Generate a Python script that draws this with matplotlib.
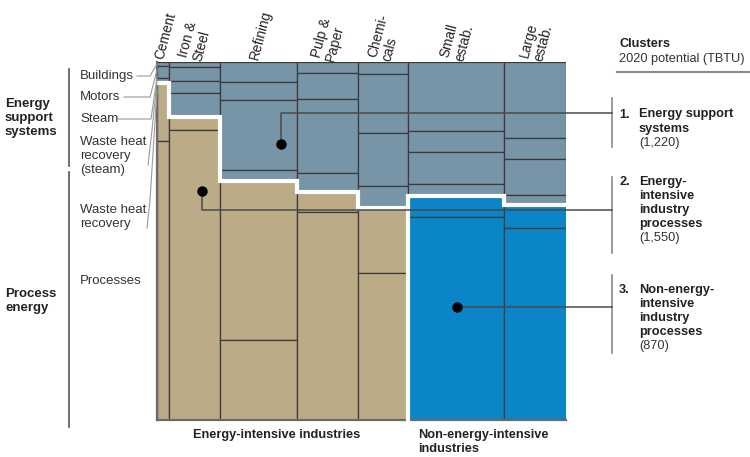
import matplotlib
matplotlib.use("Agg")
import matplotlib.pyplot as plt
import numpy as np
from matplotlib.transforms import blended_transform_factory

plt.rcParams['font.family'] = ['Liberation Sans', 'DejaVu Sans']

W, H = 750, 457

# columns (width ~ share of total potential)
sectors = ["Cement", "Iron &\nSteel", "Refining", "Pulp &\nPaper", "Chemi-\ncals",
           "Small\nestab.", "Large\nestab."]
widths = [12, 51, 77, 61, 50, 96, 62]
energy_intensive = [True, True, True, True, True, False, False]

# % of each column, from the top: energy support systems, then processes
support = [
    [1.1, 3.4, 1.4],
    [1.4, 3.9, 3.4, 6.7],
    [5.6, 5.0, 19.6, 3.1],
    [3.1, 7.3, 20.7, 5.3],
    [3.4, 16.5, 14.8, 6.1],
    [19.3, 5.9, 8.9, 3.4],
    [21.2, 5.9, 10.1, 2.8],
]
process = [
    [16.2, 77.9],
    [3.6, 81.0],
    [44.4, 22.3],
    [5.6, 58.1],
    [18.2, 41.1],
    [5.9, 56.7],
    [6.4, 53.6],
]

side_items = ["Buildings", "Motors", "Steam", "Waste heat\nrecovery\n(steam)",
              "Waste heat\nrecovery", "Processes"]
clusters = ["Energy support\nsystems", "Energy-\nintensive\nindustry\nprocesses",
            "Non-energy-\nintensive\nindustry\nprocesses"]
potential = ["1,220", "1,550", "870"]

slate = "#7895a7"
tan = "#bbab87"
blue = "#0a85c7"
edge = "#3a3a3a"

fig = plt.figure(figsize=(7.5, 4.57), dpi=100)
ax = fig.add_axes([157 / W, (H - 420) / H, (566 - 157) / W, (420 - 62) / H])
ov = fig.add_axes([0, 0, 1, 1])
ov.set_xlim(0, W)
ov.set_ylim(H, 0)
ov.axis('off')

total = sum(widths)
lefts = np.r_[0, np.cumsum(widths)[:-1]]
ax.set_xlim(0, total)
ax.set_ylim(100, 0)
ax.axis('off')

bnd = []
for i, x0 in enumerate(lefts):
    b = 0
    for h in support[i]:
        ax.bar(x0, h, width=widths[i], bottom=b, align='edge', color=slate,
               edgecolor=edge, linewidth=0.9)
        b += h
    bnd.append(b)
    pc = tan if energy_intensive[i] else blue
    for h in process[i]:
        ax.bar(x0, h, width=widths[i], bottom=b, align='edge', color=pc,
               edgecolor=edge, linewidth=0.9)
        b += h

# outer frame
ax.plot([0, 0], [0, 100], color="#6a6a6a", lw=1.6, clip_on=False)
ax.plot([0, total], [100, 100], color="#6a6a6a", lw=1.6, clip_on=False)

# white boundary between support systems and processes
ax.step(np.r_[lefts, total], np.r_[bnd, bnd[-1]], where='post', color='white',
        lw=3, clip_on=False, solid_joinstyle='miter')
gap = lefts[energy_intensive.index(False)]
ax.plot([gap, gap], [bnd[4], 100.5], color='white', lw=3, clip_on=False)

# column labels
tr = blended_transform_factory(ax.transData, ov.transData)
for i, s in enumerate(sectors):
    ax.text(lefts[i] + widths[i] / 2 - 4, 59, s, transform=tr, rotation=75,
            rotation_mode='anchor', ha='left', va='center', fontsize=9.8,
            color="#222", linespacing=1.05)

# left side
fs = 9.5
ov.text(5, 118, "Energy\nsupport\nsystems", fontsize=fs, fontweight='bold',
        va='center', ha='left', linespacing=1.2, color="#222")
ov.text(5, 301, "Process\nenergy", fontsize=fs, fontweight='bold',
        va='center', ha='left', linespacing=1.2, color="#222")
ov.plot([69, 69], [69, 166], color="#555", lw=1.2)
ov.plot([69, 69], [172, 427], color="#555", lw=1.2)

item_y = [76, 97, 119, 156, 217, 281]
for s, y in zip(side_items, item_y):
    ov.text(80, y, s, fontsize=fs, va='center', ha='left', linespacing=1.2,
            color="#333")
gl = dict(color="#9a9a9a", lw=0.8)
ov.plot([137, 150, 157], [76, 76, 64], **gl)
ov.plot([124, 150, 157], [97, 97, 70], **gl)
ov.plot([118, 151, 157], [119, 119, 77], **gl)
ov.plot([148, 152, 157], [165, 130, 81], **gl)
ov.plot([147, 150, 157], [228, 200, 90], **gl)

# bottom labels
ov.text(277, 435, "Energy-intensive industries", fontsize=9.2, fontweight='bold',
        ha='center', va='center', color="#222")
ov.text(418, 442, "Non-energy-intensive\nindustries", fontsize=9.2,
        fontweight='bold', ha='left', va='center', linespacing=1.2, color="#222")

# right-hand cluster legend
ov.text(619, 44, "Clusters", fontsize=9.2, fontweight='bold', ha='left',
        va='center', color="#222")
ov.text(619, 59, "2020 potential (TBTU)", fontsize=9.2, ha='left', va='center',
        color="#333")
ov.plot([617, 750], [72, 72], color="#8a8a8a", lw=1.5)

leg_top = [115, 182, 290]
brackets = [(98, 147), (177, 253), (275, 353)]
for k in range(3):
    n = clusters[k].count("\n") + 1
    ov.text(619, leg_top[k], f"{k + 1}.", fontsize=9.2, fontweight='bold',
            ha='left', va='center', color="#222")
    ov.text(639, leg_top[k] - 6.5, clusters[k], fontsize=9.2, fontweight='bold',
            ha='left', va='top', linespacing=1.25, color="#222")
    ov.text(639, leg_top[k] + n * 14, f"({potential[k]})", fontsize=9.2,
            ha='left', va='center', color="#333")
    ov.plot([612, 612], brackets[k], color="#8a8a8a", lw=1.2)

# leader lines from the clusters to the chart
ll = dict(color="#4a4a4a", lw=1.1)
ov.plot([281, 281, 612], [144, 113, 113], **ll)
ov.plot([202, 202, 612], [191, 210, 210], **ll)
ov.plot([457, 612], [307, 307], **ll)
for x, y in [(281, 144), (202, 191), (457, 307)]:
    ov.plot(x, y, 'o', color='black', ms=6.5)

fig.savefig("out.png", dpi=100)
